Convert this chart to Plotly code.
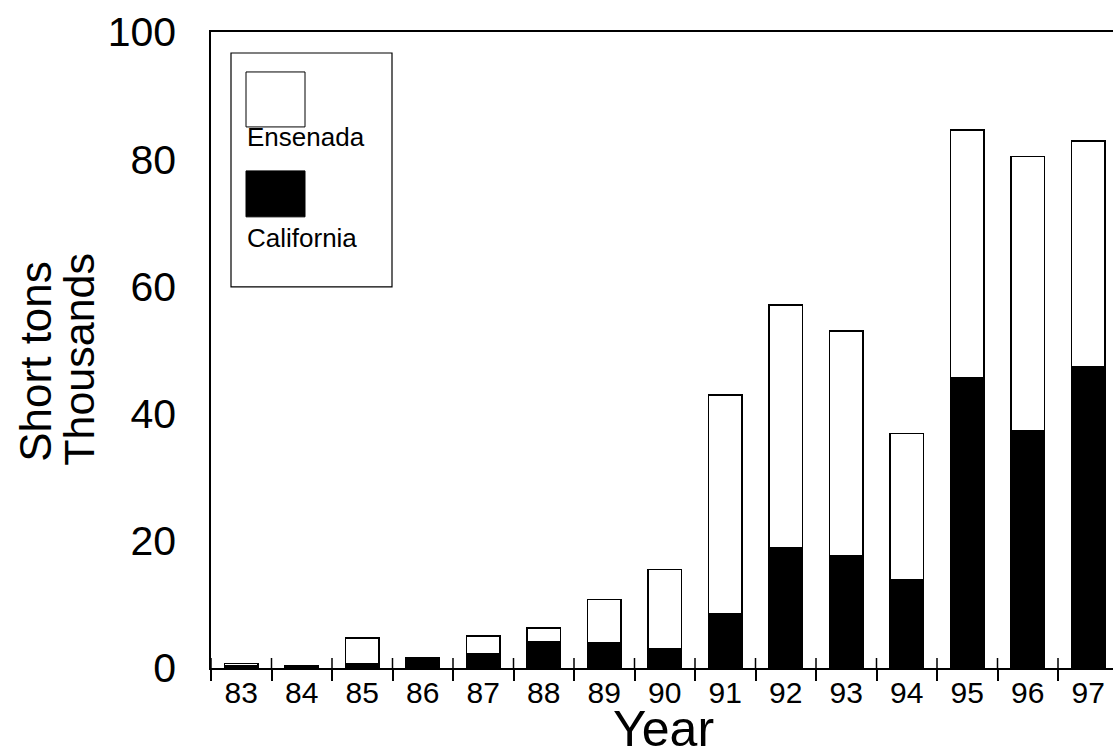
import plotly.graph_objects as go

# ---- data ----
years = [83, 84, 85, 86, 87, 88, 89, 90, 91, 92, 93, 94, 95, 96, 97]
year_labels = [str(y) for y in years]
california = [0.4, 0.3, 0.7, 1.3, 2.3, 4.1, 4.0, 3.0, 8.5, 18.9, 17.6, 13.9, 45.6, 37.3, 47.3]
totals = [0.7, 0.4, 4.7, 1.6, 5.0, 6.3, 10.8, 15.5, 42.9, 57.1, 53.0, 36.9, 84.6, 80.4, 82.9]
ensenada = [round(t - c, 2) for t, c in zip(totals, california)]
y_ticks = [0, 20, 40, 60, 80, 100]
series_names = ["California", "Ensenada"]

boundaries = [y - 0.5 for y in years] + [years[-1] + 0.5]

FONT = "Liberation Sans, Arial, Helvetica, sans-serif"

L, R, T, B = 211, 0, 32, 82.5
W, H = 1113, 751
pw = W - L - R
ph = H - T - B
cat_px = 60.5
x_range = [82.5, 82.5 + pw / cat_px]
y_range = [0, 100]
inside_tick_units = 10 * (y_range[1] - y_range[0]) / ph  # 10 px inside tick

fig = go.Figure()
fig.add_bar(x=years, y=california, name=series_names[0], width=0.56,
            marker=dict(color="black", line=dict(color="black", width=1.5)))
fig.add_bar(x=years, y=ensenada, name=series_names[1], width=0.56,
            marker=dict(color="white", line=dict(color="black", width=1.5)))
# inside half of the crossing tick marks at category boundaries
fig.add_scatter(x=boundaries, y=[0] * len(boundaries), mode="markers",
                marker=dict(color="rgba(0,0,0,0)", size=2), hoverinfo="skip", showlegend=False,
                cliponaxis=False,
                error_y=dict(type="data", symmetric=False,
                             array=[inside_tick_units] * len(boundaries),
                             arrayminus=[0] * len(boundaries),
                             width=0, thickness=1.5, color="black", visible=True))

fig.update_layout(
    width=W, height=H,
    margin=dict(l=L, r=R, t=T, b=B, pad=0, autoexpand=False),
    barmode="stack",
    showlegend=False,
    plot_bgcolor="white", paper_bgcolor="white",
    font=dict(family=FONT, color="black"),
    xaxis=dict(
        range=x_range,
        tickmode="array", tickvals=years, ticktext=year_labels,
        ticks="", tickfont=dict(size=30, family=FONT, color="black"),
        ticklabelstandoff=-3,
        showline=True, linecolor="black", linewidth=1.5, mirror=True,
        showgrid=False, zeroline=False,
        minor=dict(tickmode="array", tickvals=boundaries, ticks="outside",
                   ticklen=11, tickwidth=1.5, tickcolor="black", showgrid=False),
    ),
    yaxis=dict(
        range=y_range, tickmode="array", tickvals=y_ticks,
        ticks="", tickfont=dict(size=41, family=FONT, color="black"),
        ticklabelstandoff=25,
        showline=True, linecolor="black", linewidth=1.5,
        showgrid=False, zeroline=False,
    ),
)

def px_x(p):
    return (p - L) / pw

def px_y(p):
    return (T + ph - p) / ph

# axis titles
fig.add_annotation(text="Year", xref="paper", yref="paper", x=px_x(663), y=px_y(730),
                   xanchor="center", yanchor="middle", showarrow=False,
                   font=dict(size=50, family=FONT, color="black"))
fig.add_annotation(text="Short tons", xref="paper", yref="paper", x=px_x(36), y=px_y(362),
                   xanchor="center", yanchor="middle", showarrow=False, textangle=-90,
                   font=dict(size=44, family=FONT, color="black"))
fig.add_annotation(text="Thousands", xref="paper", yref="paper", x=px_x(79), y=px_y(360),
                   xanchor="center", yanchor="middle", showarrow=False, textangle=-90,
                   font=dict(size=43, family=FONT, color="black"))

# custom legend (symbol above label, boxed)
fig.add_shape(type="rect", xref="paper", yref="paper",
              x0=px_x(231), x1=px_x(392), y0=px_y(287), y1=px_y(53),
              line=dict(color="black", width=1.2), fillcolor="white", layer="above")
fig.add_shape(type="rect", xref="paper", yref="paper",
              x0=px_x(246), x1=px_x(305), y0=px_y(127), y1=px_y(72),
              line=dict(color="black", width=1), fillcolor="white", layer="above")
fig.add_shape(type="rect", xref="paper", yref="paper",
              x0=px_x(246), x1=px_x(305), y0=px_y(217), y1=px_y(171),
              line=dict(color="black", width=1), fillcolor="black", layer="above")
fig.add_annotation(text=series_names[1], xref="paper", yref="paper", x=px_x(245), y=px_y(137),
                   xanchor="left", yanchor="middle", showarrow=False,
                   font=dict(size=26, family=FONT, color="black"))
fig.add_annotation(text=series_names[0], xref="paper", yref="paper", x=px_x(245), y=px_y(238),
                   xanchor="left", yanchor="middle", showarrow=False,
                   font=dict(size=26, family=FONT, color="black"))

fig.write_html(
    "out.html",
    config={"displayModeBar": False},
    post_script="document.body.style.margin='0';document.body.style.padding='0';"
                "document.body.style.overflow='hidden';"
                "document.documentElement.style.overflow='hidden';",
)
